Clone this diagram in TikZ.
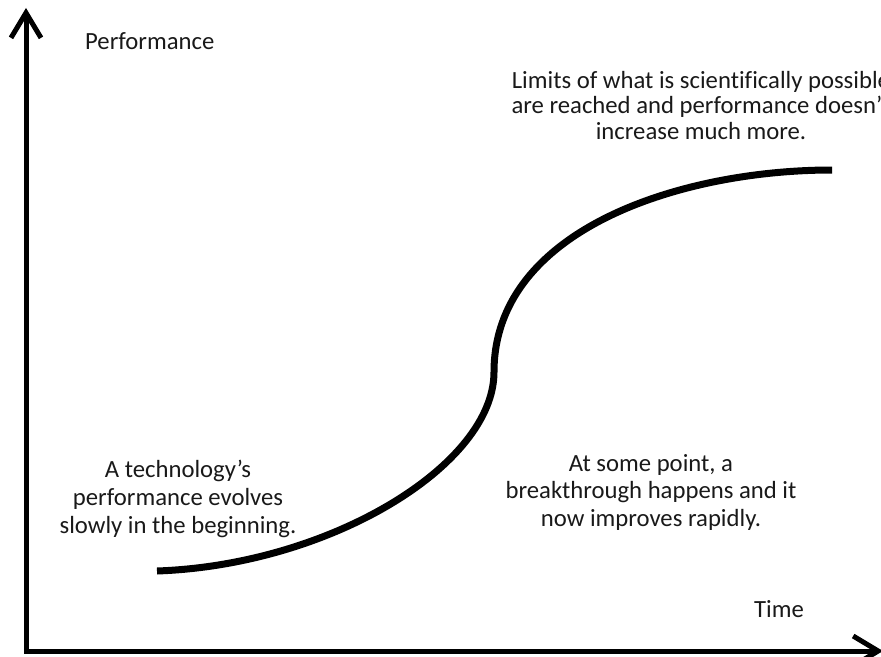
\documentclass[tikz,border=0pt]{standalone}
\usepackage{fontspec}
\setmainfont{Carlito}[Ligatures={NoCommon}]
\usetikzlibrary{arrows.meta}
\begin{document}
\begin{tikzpicture}[x=1bp,y=-1bp,
  axis/.style={line width=5bp,-{Straight Barb[length=25bp,width=30bp]}},
  scurve/.style={line width=7bp},
  lbl/.style={inner sep=0pt,text=black!90},
  note/.style={lbl,align=center,font=\fontsize{24.8}{27.8}\selectfont}]
\useasboundingbox (0,0) rectangle (881,657);
\clip (0,0) rectangle (881,657);
\coordinate (origin) at (26,651);
\coordinate (ytip) at (26,8);
\coordinate (xtip) at (883,651);
\draw[axis] (origin) -- (ytip);
\draw[axis] (24,651) -- (xtip);
\coordinate (s0) at (157,571);
\coordinate (s1) at (494,372);
\coordinate (s2) at (832,170);
\draw[scurve] (s0) .. controls (330,565) and (494,465) .. (s1)
  .. controls (494,230) and (680,170) .. (s2);
\node[lbl,anchor=base west,font=\fontsize{24.8}{28}\selectfont] (perf) at (85,50) {Performance};
\node[lbl,anchor=base west,font=\fontsize{24.8}{28}\selectfont] (time) at (754,617) {Time};
\node[note,anchor=north,font=\fontsize{24.8}{25.5}\selectfont] (limits) at (701,71) {Limits of what is scientifically possible\\are reached and performance doesn't\\increase much more.};
\node[note,anchor=north] (slow) at (178,460) {A technology's\\performance evolves\\slowly in the beginning.};
\node[note,anchor=north] (rapid) at (651,454) {At some point, a\\breakthrough happens and it\\now improves rapidly.};
\end{tikzpicture}
\end{document}
